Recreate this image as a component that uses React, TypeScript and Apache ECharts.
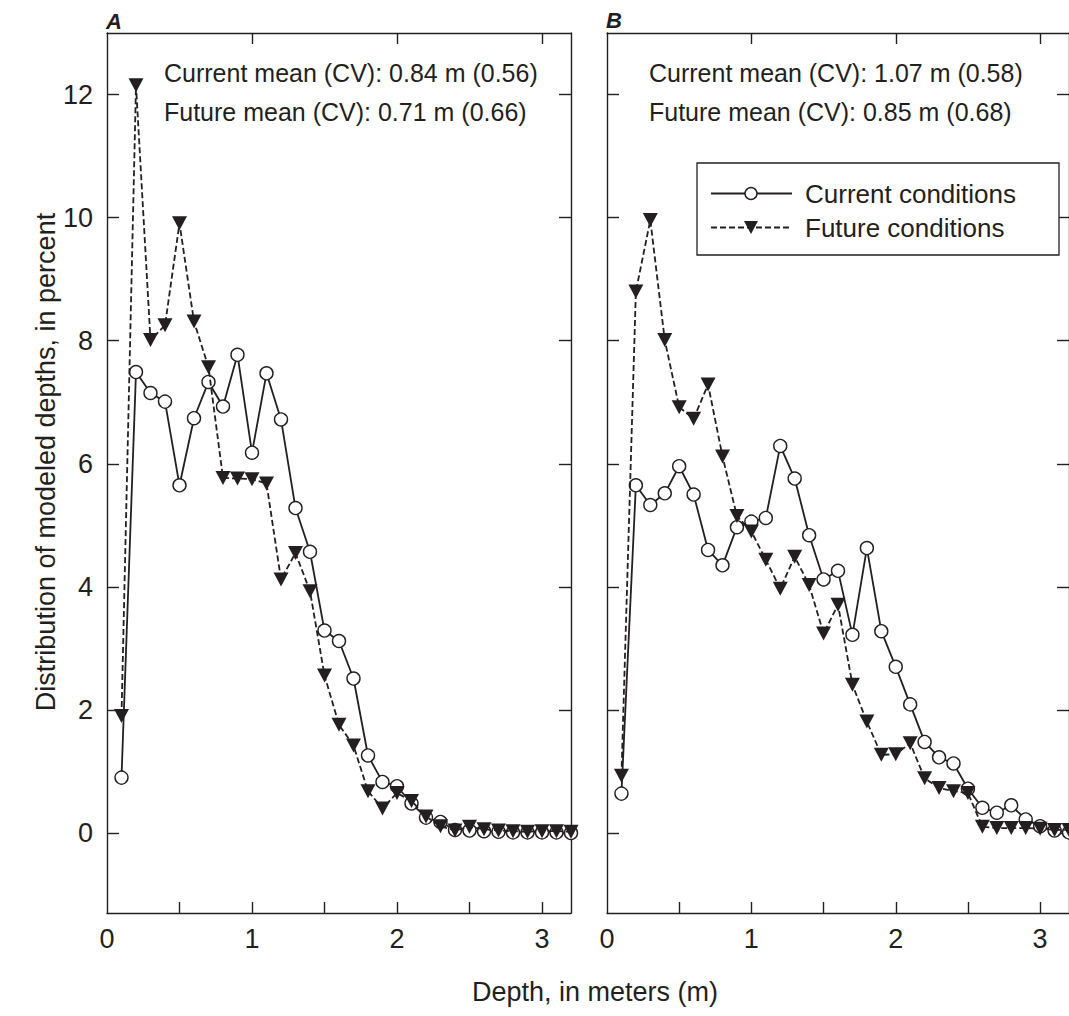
import React, { useEffect, useRef } from "react";
import * as echarts from "echarts";

// Depth bins (m)
const depths = [
  0.1, 0.2, 0.3, 0.4, 0.5, 0.6, 0.7, 0.8, 0.9, 1.0, 1.1, 1.2, 1.3, 1.4, 1.5, 1.6,
  1.7, 1.8, 1.9, 2.0, 2.1, 2.2, 2.3, 2.4, 2.5, 2.6, 2.7, 2.8, 2.9, 3.0, 3.1, 3.2,
];

// Panel A
const currentA = [
  0.9, 7.49, 7.15, 7.01, 5.65, 6.74, 7.33, 6.93, 7.77, 6.18, 7.47, 6.72, 5.28, 4.57, 3.29, 3.12,
  2.51, 1.26, 0.83, 0.76, 0.48, 0.25, 0.18, 0.05, 0.04, 0.03, 0.02, 0.01, 0.01, 0.01, 0.01, 0.0,
];
const futureA = [
  1.9, 12.15, 8.01, 8.25, 9.91, 8.31, 7.57, 5.77, 5.76, 5.75, 5.68, 4.12, 4.55, 3.93, 2.56, 1.76,
  1.42, 0.68, 0.4, 0.65, 0.52, 0.27, 0.11, 0.04, 0.1, 0.06, 0.04, 0.03, 0.02, 0.03, 0.03, 0.02,
];

// Panel B
const currentB = [
  0.64, 5.65, 5.33, 5.52, 5.96, 5.5, 4.6, 4.35, 4.97, 5.06, 5.12, 6.29, 5.76, 4.84, 4.12, 4.26,
  3.22, 4.63, 3.28, 2.7, 2.09, 1.48, 1.23, 1.13, 0.72, 0.41, 0.33, 0.45, 0.22, 0.11, 0.04, 0.01,
];
const futureB = [
  0.93, 8.8, 9.96, 8.01, 6.92, 6.73, 7.29, 6.12, 5.15, 4.9, 4.44, 3.97, 4.49, 4.03, 3.24, 3.71,
  2.41, 1.81, 1.27, 1.28, 1.46, 0.89, 0.73, 0.68, 0.65, 0.1, 0.08, 0.08, 0.08, 0.07, 0.05, 0.05,
];

const yTickValues = [0, 2, 4, 6, 8, 10, 12];
const xLabelValues = [0, 1, 2, 3];
const xBottomTickValues = [0.5, 1, 1.5, 2, 2.5, 3];
const xTopTickValues = [1, 2, 3];

const panelLabels = ["A", "B"];
const notesA = ["Current mean (CV): 0.84 m (0.56)", "Future mean (CV): 0.71 m (0.66)"];
const notesB = ["Current mean (CV): 1.07 m (0.58)", "Future mean (CV): 0.85 m (0.68)"];
const seriesNames = ["Current conditions", "Future conditions"];
const xTitle = "Depth, in meters (m)";
const yTitle = "Distribution of modeled depths, in percent";

const INK = "#231f20";
const FONT = "'Liberation Sans', Arial, Helvetica, sans-serif";

function bottomAxis(gridIndex: number) {
  return {
    type: "value",
    gridIndex,
    position: "bottom",
    min: 0,
    max: 3.2,
    axisLine: { show: true, onZero: false, lineStyle: { color: INK, width: 1.4 } },
    axisTick: {
      show: true,
      inside: true,
      length: 11,
      customValues: xBottomTickValues,
      lineStyle: { color: INK, width: 1.4 },
    },
    axisLabel: {
      show: true,
      customValues: xLabelValues,
      margin: 12,
      color: INK,
      fontSize: 27,
      fontFamily: FONT,
    },
    splitLine: { show: false },
  };
}

function topAxis(gridIndex: number) {
  return {
    type: "value",
    gridIndex,
    position: "top",
    min: 0,
    max: 3.2,
    axisLine: { show: true, onZero: false, lineStyle: { color: INK, width: 1.4 } },
    axisTick: {
      show: true,
      inside: true,
      length: 11,
      customValues: xTopTickValues,
      lineStyle: { color: INK, width: 1.4 },
    },
    axisLabel: { show: false },
    splitLine: { show: false },
  };
}

function sideAxis(gridIndex: number, position: string, showLabels: boolean) {
  return {
    type: "value",
    gridIndex,
    position,
    min: -1.3,
    max: 13,
    axisLine: { show: true, onZero: false, lineStyle: { color: INK, width: 1.4 } },
    axisTick: {
      show: true,
      inside: true,
      length: 12,
      customValues: yTickValues,
      lineStyle: { color: INK, width: 1.4 },
    },
    axisLabel: {
      show: showLabels,
      customValues: yTickValues,
      margin: 14,
      color: INK,
      fontSize: 27,
      fontFamily: FONT,
    },
    splitLine: { show: false },
  };
}

function currentSeries(xIdx: number, yIdx: number, values: number[]) {
  return {
    type: "line",
    name: seriesNames[0],
    xAxisIndex: xIdx,
    yAxisIndex: yIdx,
    data: depths.map((d, i) => [d, values[i]]),
    symbol: "circle",
    symbolSize: 13,
    showAllSymbol: true,
    lineStyle: { color: INK, width: 1.8, type: "solid" },
    itemStyle: { color: "#ffffff", borderColor: INK, borderWidth: 1.4 },
    z: 2,
    clip: false,
  };
}

function futureSeries(xIdx: number, yIdx: number, values: number[]) {
  return {
    type: "line",
    name: seriesNames[1],
    xAxisIndex: xIdx,
    yAxisIndex: yIdx,
    data: depths.map((d, i) => [d, values[i]]),
    symbol: "triangle",
    symbolRotate: 180,
    symbolSize: [15, 14],
    showAllSymbol: true,
    lineStyle: { color: INK, width: 1.8, type: [6, 3] },
    itemStyle: { color: INK, borderColor: INK, borderWidth: 0 },
    z: 3,
    clip: false,
  };
}

function textEl(text: string, x: number, y: number, size: number, extra: any = {}) {
  return {
    type: "text",
    x,
    y,
    silent: true,
    z: 10,
    ...extra,
    style: {
      text,
      fill: INK,
      fontSize: size,
      fontFamily: FONT,
      textAlign: "left",
      textVerticalAlign: "middle",
      ...(extra.style || {}),
    },
  };
}

export default function App() {
  const ref = useRef<HTMLDivElement | null>(null);

  useEffect(() => {
    if (!ref.current) return;
    const chart = echarts.init(ref.current, null, { renderer: "svg" });

    const legendX = 697;
    const legendY = 163;
    const rowY = [193.5, 227.5];
    const sampleX0 = 711;
    const sampleX1 = 792;
    const sampleMid = 751;

    const graphicElements: any[] = [
      // Panel labels
      textEl(panelLabels[0], 106, 21, 22, {
        style: { fontWeight: "bold", fontStyle: "italic", textAlign: "left" },
      }),
      textEl(panelLabels[1], 606, 20, 22, {
        style: { fontWeight: "bold", fontStyle: "italic", textAlign: "left" },
      }),
      // Notes
      textEl(notesA[0], 164, 73, 25),
      textEl(notesA[1], 164, 112, 25),
      textEl(notesB[0], 649, 73, 25),
      textEl(notesB[1], 649, 112, 25),
      // Axis titles
      textEl(xTitle, 595, 992, 27, { style: { textAlign: "center" } }),
      textEl(yTitle, 46, 462, 27, {
        rotation: Math.PI / 2,
        style: { textAlign: "center" },
      }),
      // Legend box
      {
        type: "rect",
        silent: true,
        z: 9,
        shape: { x: legendX, y: legendY, width: 362, height: 92 },
        style: { fill: "#ffffff", stroke: INK, lineWidth: 1.3 },
      },
      {
        type: "line",
        silent: true,
        z: 10,
        shape: { x1: sampleX0, y1: rowY[0], x2: sampleX1, y2: rowY[0] },
        style: { stroke: INK, lineWidth: 1.8 },
      },
      {
        type: "circle",
        silent: true,
        z: 11,
        shape: { cx: sampleMid, cy: rowY[0], r: 6 },
        style: { fill: "#ffffff", stroke: INK, lineWidth: 1.4 },
      },
      {
        type: "line",
        silent: true,
        z: 10,
        shape: { x1: sampleX0, y1: rowY[1], x2: sampleX1, y2: rowY[1] },
        style: { stroke: INK, lineWidth: 1.8, lineDash: [6, 3] },
      },
      {
        type: "polygon",
        silent: true,
        z: 11,
        shape: {
          points: [
            [sampleMid - 7, rowY[1] - 6.5],
            [sampleMid + 7, rowY[1] - 6.5],
            [sampleMid, rowY[1] + 6.5],
          ],
        },
        style: { fill: INK },
      },
      textEl(seriesNames[0], 805, rowY[0], 26, { z: 11 }),
      textEl(seriesNames[1], 805, rowY[1], 26, { z: 11 }),
    ];

    chart.setOption({
      animation: false,
      backgroundColor: "#ffffff",
      textStyle: { fontFamily: FONT, color: INK },
      grid: [
        { left: 107, top: 33, width: 464, height: 880 },
        { left: 607, top: 33, width: 465, height: 880 },
      ],
      xAxis: [bottomAxis(0), topAxis(0), bottomAxis(1), topAxis(1)],
      yAxis: [
        sideAxis(0, "left", true),
        sideAxis(0, "right", false),
        sideAxis(1, "left", false),
        sideAxis(1, "right", false),
      ],
      series: [
        currentSeries(0, 0, currentA),
        futureSeries(0, 0, futureA),
        currentSeries(2, 2, currentB),
        futureSeries(2, 2, futureB),
      ],
      graphic: { elements: graphicElements },
    });

    return () => {
      chart.dispose();
    };
  }, []);

  return (
    <div
      ref={ref}
      style={{ position: "fixed", left: 0, top: 0, width: 1069, height: 1016, background: "#fff" }}
    />
  );
}
